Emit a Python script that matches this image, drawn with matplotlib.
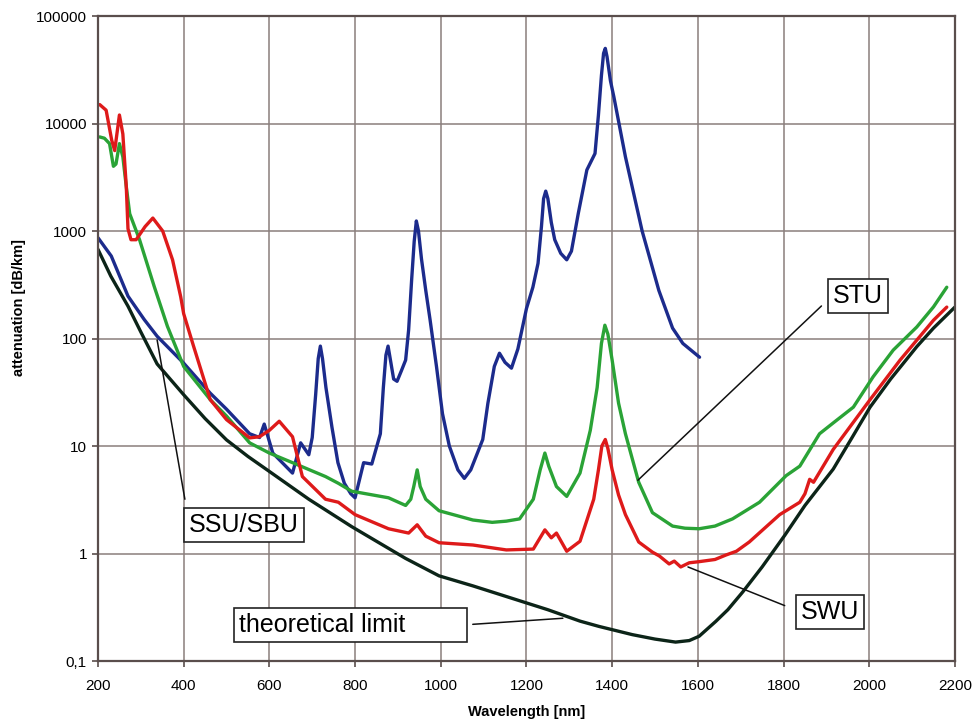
import numpy as np
import matplotlib
matplotlib.use("Agg")
import matplotlib.pyplot as plt
from matplotlib.ticker import NullLocator

plt.rcParams['font.family'] = ['Liberation Sans', 'DejaVu Sans']

# ---- data (wavelength nm, attenuation dB/km) ----
ssu_nm = [200, 231, 270, 308, 338, 400, 462, 500, 554, 577, 588, 608, 654, 673, 692,
          700, 708, 714, 719, 724, 732, 746, 760, 775, 790, 800, 820, 839, 859, 866,
          872, 877, 882, 890, 898, 908, 918, 925, 932, 938, 943, 948, 955, 965, 975,
          990, 1004, 1020, 1040, 1055, 1070, 1085, 1098, 1110, 1125, 1137, 1150, 1165,
          1180, 1200, 1215, 1227, 1235, 1240, 1245, 1250, 1258, 1266, 1280, 1294, 1305,
          1321, 1341, 1360, 1368, 1375, 1380, 1384, 1388, 1396, 1404, 1431, 1470, 1509,
          1541, 1565, 1604]
ssu_db = [866, 585, 248, 150, 105, 59, 31, 22, 13, 12, 16, 8.6, 5.6, 10.7, 8.3,
          12, 30, 65, 85, 65, 35, 15, 7, 4.5, 3.6, 3.3, 7, 6.8, 13, 35,
          70, 85, 65, 42, 40, 50, 63, 120, 350, 800, 1240, 1000, 550, 280, 150,
          55, 20, 10, 6, 5, 6, 8.5, 11.5, 25, 55, 73, 60, 53,
          80, 190, 300, 500, 1100, 2000, 2350, 2000, 1200, 830, 620, 540, 650,
          1460, 3700, 5260, 12000, 28000, 45000, 50000, 42000, 25000, 17700, 4900, 1000, 280,
          125, 90, 67]

stu_nm = [204, 215, 227, 236, 242, 250, 258, 266, 274, 297, 331, 362, 400, 462, 500,
          554, 600, 654, 731, 761, 792, 878, 918, 930, 937, 945, 952, 965, 996, 1075,
          1120, 1153, 1184, 1216, 1232, 1243, 1252, 1270, 1294, 1325, 1349, 1365, 1375,
          1383, 1390, 1400, 1415, 1431, 1462, 1494, 1541, 1570, 1603, 1640, 1681, 1744,
          1806, 1838, 1884, 1916, 1963, 2009, 2056, 2111, 2150, 2181]
stu_db = [7500, 7300, 6500, 4000, 4200, 6500, 4900, 2600, 1450, 830, 307, 130, 55, 27, 19,
          10.7, 8.6, 7, 5.2, 4.5, 3.8, 3.3, 2.8, 3.2, 4.2, 6, 4.2, 3.2, 2.5, 2.05,
          1.95, 2.0, 2.1, 3.2, 6, 8.6, 6.5, 4.2, 3.4, 5.6, 14, 35, 90,
          133, 110, 63, 25, 13, 4.6, 2.4, 1.8, 1.72, 1.7, 1.8, 2.1, 3.0,
          5.3, 6.5, 13, 16.4, 23, 44, 78, 128, 197, 300]

swu_nm = [204, 219, 232, 239, 250, 258, 266, 270, 277, 289, 310, 328, 351, 374, 393,
          400, 423, 462, 500, 554, 577, 600, 623, 654, 677, 731, 761, 800, 878, 925,
          945, 965, 996, 1075, 1153, 1216, 1243, 1258, 1270, 1294, 1325, 1357, 1368,
          1376, 1384, 1390, 1400, 1415, 1431, 1462, 1494, 1510, 1533, 1545, 1560, 1580,
          1603, 1640, 1666, 1690, 1720, 1791, 1838, 1850, 1861, 1870, 1916, 2002, 2072,
          2150, 2181]
swu_db = [15000, 13300, 7000, 5600, 12000, 8000, 2600, 1050, 830, 830, 1100, 1320, 1000, 540, 245,
          170, 85, 27, 17.6, 11.9, 12.2, 14, 17, 12.2, 5.2, 3.2, 3.0, 2.3, 1.7, 1.55,
          1.85, 1.45, 1.26, 1.2, 1.08, 1.1, 1.66, 1.4, 1.55, 1.05, 1.3, 3.2, 6,
          10, 11.5, 9.5, 6, 3.5, 2.3, 1.28, 1.03, 0.95, 0.8, 0.85, 0.75, 0.82,
          0.84, 0.88, 0.97, 1.05, 1.28, 2.3, 3.0, 3.6, 4.9, 4.6, 9.3, 27, 63,
          148, 196]

lim_nm = [200, 230, 270, 300, 338, 400, 450, 500, 550, 600, 692, 792, 850, 918, 996,
          1075, 1169, 1250, 1325, 1369, 1447, 1500, 1548, 1580, 1603, 1642, 1670, 1705,
          1750, 1803, 1850, 1916, 1960, 2002, 2050, 2111, 2150, 2200]
lim_db = [675, 380, 200, 115, 58, 30, 18, 11.4, 8, 5.8, 3.2, 1.78, 1.3, 0.9, 0.62,
          0.5, 0.38, 0.3, 0.235, 0.21, 0.176, 0.16, 0.15, 0.155, 0.17, 0.234, 0.3, 0.44,
          0.75, 1.48, 2.8, 6.1, 12, 23, 42, 84, 125, 196]

y_ticks = [0.1, 1, 10, 100, 1000, 10000, 100000]
y_labels = ['0,1', '1', '10', '100', '1000', '10000', '100000']
x_ticks = list(range(200, 2201, 200))

fig = plt.figure(figsize=(9.76, 7.28), dpi=100)
ax = fig.add_axes([0.1004, 0.092, 0.878, 0.886])

kw = dict(lw=2.4, solid_joinstyle='round', solid_capstyle='round')
ax.plot(ssu_nm, ssu_db, color='#1c2b8c', **kw)
ax.plot(stu_nm, stu_db, color='#2aa336', **kw)
ax.plot(swu_nm, swu_db, color='#de1a1a', **kw)
ax.plot(lim_nm, lim_db, color='#0c2418', **kw)

ax.set_yscale('log')
ax.set_xlim(200, 2200)
ax.set_ylim(0.1, 100000)
ax.set_xticks(x_ticks)
ax.set_yticks(y_ticks)
ax.set_yticklabels(y_labels)
ax.yaxis.set_minor_locator(NullLocator())
ax.tick_params(axis='both', labelsize=11, length=4, width=1.2, color='#5a4e4c')
ax.tick_params(axis='x', pad=9)
ax.tick_params(axis='y', pad=4)

ax.grid(True, color='#8a7f7c', lw=1.1)
ax.set_axisbelow(True)
for s in ax.spines.values():
    s.set_color('#5a4e4c')
    s.set_linewidth(1.6)

fig.text(0.54, 0.022, 'Wavelength [nm]', ha='center', va='center',
         fontsize=10.5, fontweight='bold')
fig.text(0.019, 0.578, 'attenuation [dB/km]', ha='center', va='center',
         rotation=90, fontsize=10.5, fontweight='bold')

box = dict(boxstyle='square,pad=0.2', fc='white', ec='#222222', lw=1.2)
line = dict(arrowstyle='-', color='#111111', lw=1.1, shrinkB=0)

ax.annotate('STU', xy=(1460, 4.8), xytext=(1974, 248), fontsize=18, ha='center',
            va='center', bbox=box, arrowprops=dict(line, relpos=(0, 0.55), shrinkA=6))
ax.annotate('SWU', xy=(1577, 0.75), xytext=(1908, 0.286), fontsize=18, ha='center',
            va='center', bbox=box, arrowprops=dict(line, relpos=(0, 0.5), shrinkA=8))
ax.annotate('SSU/SBU', xy=(338, 97), xytext=(541, 1.84), fontsize=18, ha='center',
            va='center', bbox=box, arrowprops=dict(line, relpos=(0, 0.55), shrinkA=6))
ax.annotate('theoretical limit        ', xy=(1285, 0.25), xytext=(530, 0.216),
            fontsize=18, ha='left', va='center', bbox=box,
            arrowprops=dict(line, relpos=(1, 0.5), shrinkA=4))

fig.savefig('out.png', dpi=100, facecolor='white')
